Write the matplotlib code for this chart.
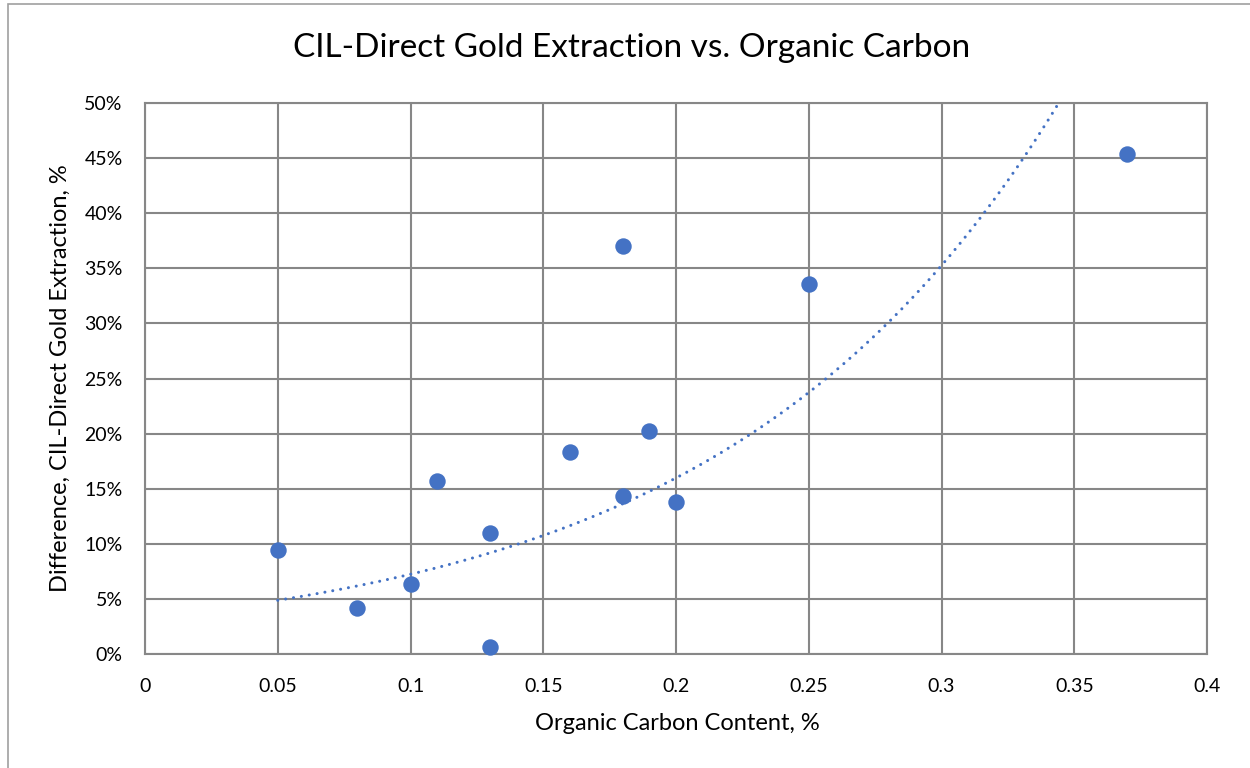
import numpy as np
import matplotlib.pyplot as plt
from matplotlib.patches import Rectangle
from matplotlib.ticker import FuncFormatter, MultipleLocator

plt.rcParams["font.family"] = ["Lato", "DejaVu Sans"]

# Data
organic_carbon = [0.05, 0.08, 0.10, 0.11, 0.13, 0.13, 0.16, 0.18, 0.19, 0.20, 0.18, 0.25, 0.37]
difference = [9.45, 4.2, 6.35, 15.7, 10.95, 0.6, 18.3, 14.35, 20.2, 13.75, 37.05, 33.6, 45.35]

x_ticks = [0, 0.05, 0.1, 0.15, 0.2, 0.25, 0.3, 0.35, 0.4]
x_tick_labels = ["0", "0.05", "0.1", "0.15", "0.2", "0.25", "0.3", "0.35", "0.4"]

BLUE = "#4472C4"
GRID = "#878787"

x = np.array(organic_carbon)
y = np.array(difference) / 100

# Excel-style exponential trendline: linear fit on ln(y)
b, ln_a = np.polyfit(x, np.log(y), 1)
xt = np.linspace(x.min(), x.max(), 300)
yt = np.exp(ln_a) * np.exp(b * xt)

fig = plt.figure(figsize=(12.5, 7.68), dpi=100)
ax = fig.add_axes([0.116, 0.1484, 0.8496, 0.7175])

ax.plot(xt, yt, color=BLUE, lw=2.2, linestyle=(0, (0.01, 2.6)),
        dash_capstyle="round", zorder=3, clip_on=True)
ax.scatter(x, y, s=140, color=BLUE, zorder=4, clip_on=False, linewidths=0)

ax.set_xlim(0, 0.4)
ax.set_ylim(0, 0.5)
ax.set_xticks(x_ticks)
ax.set_xticklabels(x_tick_labels)
ax.yaxis.set_major_locator(MultipleLocator(0.05))
ax.yaxis.set_major_formatter(FuncFormatter(lambda v, _: f"{v * 100:.0f}%"))

ax.grid(True, color=GRID, lw=1.5, zorder=0)
ax.set_axisbelow(True)
for s in ax.spines.values():
    s.set_color(GRID)
    s.set_linewidth(1.5)
ax.tick_params(length=0, labelsize=14, colors="black")
ax.tick_params(axis="x", pad=17)
ax.tick_params(axis="y", pad=16)

fig.text(0.505, 0.937, "CIL-Direct Gold Extraction vs. Organic Carbon",
         ha="center", va="center", fontsize=24)
fig.text(0.542, 0.058, "Organic Carbon Content, %", ha="center", va="center", fontsize=17)
fig.text(0.048, 0.507, "Difference, CIL-Direct Gold Extraction, %", ha="center",
         va="center", rotation=90, fontsize=17)

# chart border
fig.patches.append(Rectangle((0.006, -0.01), 1.5, 1.005, transform=fig.transFigure,
                             fill=False, edgecolor="#a0a0a0", lw=1.2))

fig.savefig("out.png", dpi=100, facecolor="white")
